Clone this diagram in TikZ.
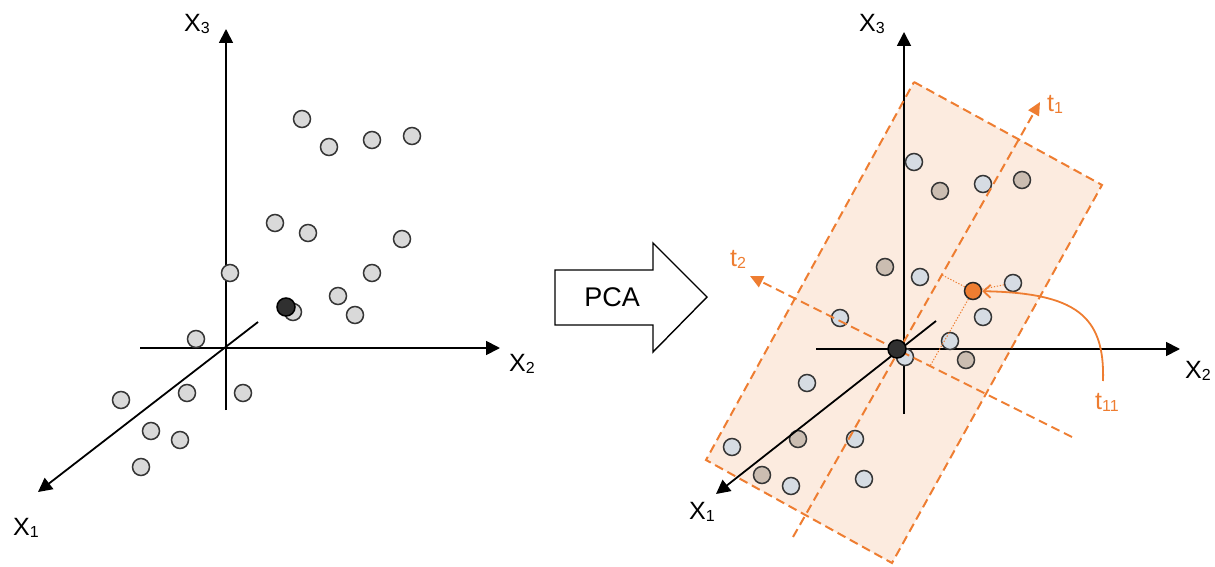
\documentclass[tikz,border=0pt]{standalone}
\usepackage{fontspec}
\setmainfont{Liberation Sans}
\usetikzlibrary{arrows.meta}
\definecolor{ptgray}{HTML}{D9D9D9}
\definecolor{ptblue}{HTML}{D6DCE3}
\definecolor{pttan}{HTML}{CBBDB1}
\definecolor{ptdark}{HTML}{303030}
\definecolor{pcaorange}{HTML}{EE7D31}
\definecolor{planefill}{HTML}{FCEBDF}
\definecolor{ptedge}{HTML}{353535}
\newcommand{\sublbl}[2]{#1\raisebox{-2pt}{\fontsize{16}{16}\selectfont #2}}
\begin{document}
\begin{tikzpicture}[x=1pt,y=-1pt,
  axisline/.style={line width=1.8pt, draw=black},
  axisarrow/.style={axisline, -{Triangle[length=14pt,width=14pt]}},
  dot/.style={circle, draw=ptedge, line width=1.5pt, minimum size=17pt, inner sep=0pt},
  graydot/.style={dot, fill=ptgray},
  bluedot/.style={dot, fill=ptblue},
  tandot/.style={dot, fill=pttan},
  darkdot/.style={dot, fill=ptdark, draw=black, minimum size=18pt},
  orangedot/.style={dot, fill=pcaorange, draw=black!85},
  axlabel/.style={anchor=base west, inner sep=0pt, font=\fontsize{25}{25}\selectfont},
  tlabel/.style={anchor=base west, inner sep=0pt, text=pcaorange, font=\fontsize{25}{25}\selectfont},
  odash/.style={draw=pcaorange, line width=2pt, dash pattern=on 9pt off 5pt},
  oarrow/.style={odash, -{Triangle[length=13pt,width=12pt]}},
  odotted/.style={draw=pcaorange, line width=1pt, dash pattern=on 1.3pt off 1.7pt},
]
\useasboundingbox (0,0) rectangle (1215,567);

% ---------------- left panel ----------------
\coordinate (L3b) at (226,410); \coordinate (L3t) at (226,29);
\coordinate (L2l) at (140,348); \coordinate (L2r) at (500,348);
\coordinate (L1s) at (258,322); \coordinate (L1e) at (38,492);
\draw[axisarrow] (L3b) -- (L3t);
\draw[axisarrow] (L2l) -- (L2r);
\draw[axisarrow] (L1s) -- (L1e);
\node[axlabel] (lx3) at (184,32) {\sublbl{X}{3}};
\node[axlabel] (lx2) at (509,371) {\sublbl{X}{2}};
\node[axlabel] (lx1) at (13,535) {\sublbl{X}{1}};

\foreach \px/\py [count=\i] in {302/119, 329/147, 372/140, 412/136, 275/223, 308/233, 402/239,
  230/273, 372/273, 338/296, 355/315, 293/312, 196/339, 187/393, 243/393, 121/400,
  151/431, 180/440, 141/467}
  \node[graydot] (lp\i) at (\px,\py) {};
\node[darkdot] (ldark) at (286,307) {};

% ---------------- PCA arrow ----------------
\draw[line width=1.4pt, fill=white] (555,270) -- (653,270) -- (653,243) -- (707,297)
  -- (653,352) -- (653,325) -- (555,325) -- cycle;
\node[font=\fontsize{27}{27}\selectfont, inner sep=0pt] (pca) at (612,297) {PCA};

% ---------------- right panel ----------------
\coordinate (PA) at (914,82); \coordinate (PB) at (1102,185);
\coordinate (PC) at (892,563); \coordinate (PD) at (706,460);
\fill[planefill] (PA) -- (PB) -- (PC) -- (PD) -- cycle;

\foreach \px/\py [count=\i] in {940/191, 1022/180, 885/267, 966/360, 798/439, 762/475}
  \node[tandot] (rt\i) at (\px,\py) {};

\coordinate (R3b) at (904,414); \coordinate (R3t) at (904,32);
\coordinate (R2l) at (816,349); \coordinate (R2r) at (1180,349);
\coordinate (R1s) at (936,321); \coordinate (R1e) at (716,494);
\draw[axisarrow] (R3b) -- (R3t);
\draw[axisarrow] (R2l) -- (R2r);
\draw[axisarrow] (R1s) -- (R1e);
\node[axlabel] (rx3) at (859,32) {\sublbl{X}{3}};
\node[axlabel] (rx2) at (1185,378) {\sublbl{X}{2}};
\node[axlabel] (rx1) at (689,519) {\sublbl{X}{1}};

\foreach \px/\py [count=\i] in {914/162, 983/184, 920/277, 840/318, 983/317, 950/341,
  905/357, 807/383, 855/439, 732/447, 791/486, 864/479}
  \node[bluedot] (rb\i) at (\px,\py) {};
\node[bluedot] (rbr) at (1013,283) {};

% plane border and principal axes
\draw[odash] (PA) -- (PB) -- (PC) -- (PD) -- cycle;
\coordinate (T1s) at (793,537); \coordinate (T1e) at (1040,102);
\coordinate (T2s) at (1072,437); \coordinate (T2e) at (750,276);
\draw[oarrow] (T1s) -- (T1e);
\draw[oarrow] (T2s) -- (T2e);
\node[tlabel] (t1) at (1047,112) {\sublbl{t}{1}};
\node[tlabel] (t2) at (730,266) {\sublbl{t}{2}};

\node[darkdot] (rdark) at (897,349) {};
\node[orangedot] (orng) at (973,291) {};

% projections
\coordinate (F1) at (942,275);
\coordinate (F2) at (930,366);
\draw[odotted] (orng) -- (F1);
\draw[odotted] (orng) -- (F2);
\draw[odotted] (orng) -- (rbr);

% t11 annotation
\node[tlabel] (t11) at (1095,409) {\sublbl{t}{11}};
\coordinate (cs) at (1103,381);
\draw[draw=pcaorange, line width=1.8pt, -{Straight Barb[length=7pt,width=13pt]}]
  (cs) .. controls (1105,315) and (1075,293) .. (orng);
\end{tikzpicture}
\end{document}
